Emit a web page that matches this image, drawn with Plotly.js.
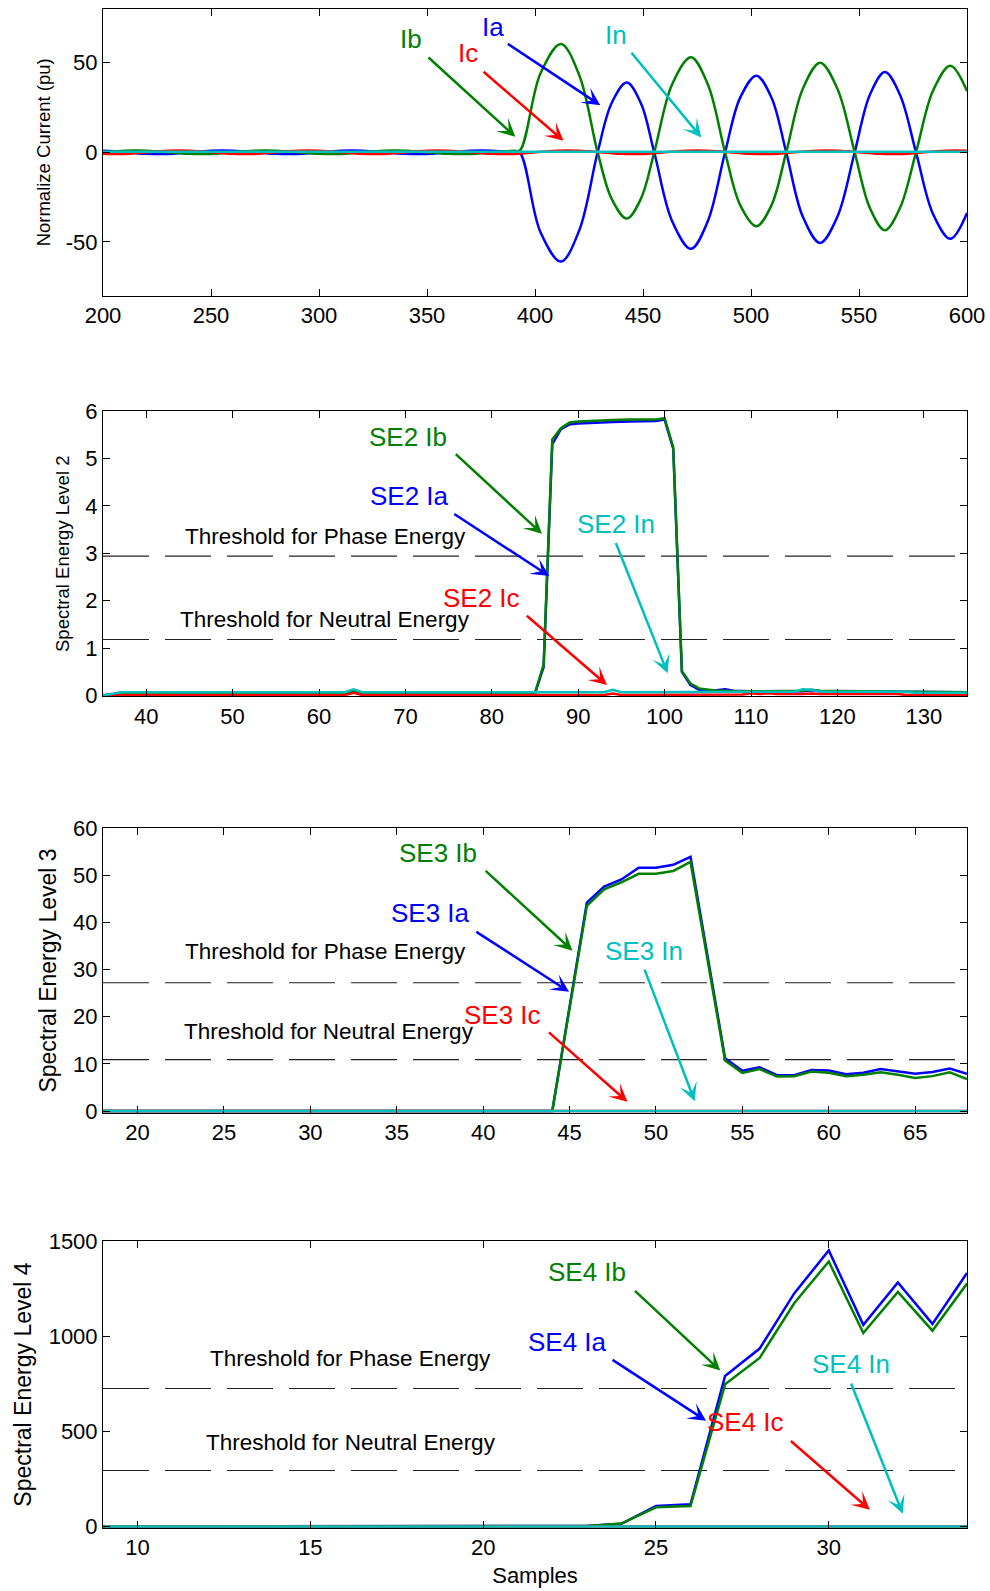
<!DOCTYPE html>
<html>
<head>
<meta charset="utf-8">
<script src="https://cdn.plot.ly/plotly-3.0.1.min.js"></script>
<style>html,body{margin:0;padding:0;background:#fff;}#chart{width:990px;height:1591px;}</style>
</head>
<body>
<div id="chart"></div>
<script>
// ---------- Panel 1: normalized currents ----------
const samples1ab = [200,205,210,215,220,225,230,235,240,245,250,255,260,265,270,275,280,285,290,295,300,305,310,315,320,325,330,335,340,345,350,355,360,365,370,375,380,385,390,393,402.5,412,420.5,429,435.5,442.5,449,455.2,463.5,472.2,480,488,495,502.5,509.5,516.3,524,532,540,548,555,562,569,576.4,584.3,592.3,600];
const Ia1 = [0.9,0.55,0.05,-0.45,-0.85,-1,-0.9,-0.55,0,0.45,0.85,1,
             0.9,0.55,0.05,-0.45,-0.85,-1,-0.9,-0.55,0,0.45,0.85,1,
             0.9,0.55,0.05,-0.45,-0.85,-1,-0.9,-0.55,0,0.45,0.85,1,
             0.9,0.55,0.05,
             -0.3,-44.5,-61,-43.5,0,27.5,38.9,27.5,0,-38.5,-53.9,-38.5,0,30.5,42.8,30.5,0,-36,-50.6,-36,0,32,44.8,32,0,-34.5,-48.3,-33.9];
const Ib1 = [0,0.45,0.85,1,0.9,0.55,0.05,-0.45,-0.85,-1,-0.9,-0.55,
             0,0.45,0.85,1,0.9,0.55,0.05,-0.45,-0.85,-1,-0.9,-0.55,
             0,0.45,0.85,1,0.9,0.55,0.05,-0.45,-0.85,-1,-0.9,-0.55,
             0,0.45,0.85,
             1,44,60.5,43,0,-26,-37,-26,0,38,53.1,38,0,-29.5,-41.3,-29.5,0,35.5,50,35.5,0,-31,-43.5,-31,0,34.5,48.3,34.2];
const samples1c = [200,205,210,215,220,225,230,235,240,245,250,255,260,265,270,275,280,285,290,295,300,305,310,315,320,325,330,335,340,345,350,355,360,365,370,375,380,385,390,395,400,405,410,415,420,425,430,435,440,445,450,455,460,465,470,475,480,485,490,495,500,505,510,515,520,525,530,535,540,545,550,555,560,565,570,575,580,585,590,595,600];
const Ic1 = [-0.85,-1,-0.9,-0.55,0,0.45,0.85,1,0.9,0.55,0.05,-0.45,
             -0.85,-1,-0.9,-0.55,0,0.45,0.85,1,0.9,0.55,0.05,-0.45,
             -0.85,-1,-0.9,-0.55,0,0.45,0.85,1,0.9,0.55,0.05,-0.45,
             -0.85,-1,-0.9,-0.55,0,0.45,0.85,1,0.9,0.55,0.05,-0.45,
             -0.85,-1,-0.9,-0.55,0,0.45,0.85,1,0.9,0.55,0.05,-0.45,
             -0.85,-1,-0.9,-0.55,0,0.45,0.85,1,0.9,0.55,0.05,-0.45,
             -0.85,-1,-0.9,-0.55,0,0.45,0.85,1,0.9];
const samples1n = [200,300,400,500,600];
const In1 = [0.3,0.3,0.3,0.3,0.3];
const yTicks1 = [-50, 0, 50];
const yTickText1 = ['-50', '0', '50'];

// ---------- Panel 2: spectral energy level 2 ----------
const samples2ab = [35,36,37,63,64,65,84,85,86,87,88,89,90,92,94,96,98,99,100,101,102,103,104,105,106,107,108,110,116,117,118,128,135];
const Ia2 = [0.0,0.02,0.04,0.04,0.09,0.04,0.04,0.05,0.6,5.3,5.62,5.72,5.74,5.76,5.77,5.78,5.79,5.79,5.82,5.2,0.5,0.22,0.12,0.1,0.11,0.13,0.1,0.09,0.09,0.11,0.09,0.07,0.07];
const Ib2 = [0.0,0.02,0.04,0.04,0.09,0.04,0.04,0.05,0.66,5.4,5.64,5.76,5.78,5.8,5.81,5.82,5.82,5.82,5.85,5.24,0.52,0.25,0.15,0.12,0.1,0.1,0.09,0.09,0.1,0.12,0.1,0.08,0.07];
const samples2c = [35,63,64,65,93,94,95,109,110,111,112,113,116,117,118,127,128,135];
const Ic2 = [0.01,0.01,0.06,0.01,0.01,0.04,0.01,0.02,0.05,0.03,0.05,0.03,0.03,0.04,0.03,0.03,0.01,0.01];
const samples2n = [35,36,37,63,64,65,93,94,95,115,116,117,118,128,129,135];
const In2 = [0.0,0.03,0.07,0.07,0.13,0.07,0.07,0.12,0.07,0.08,0.13,0.12,0.08,0.08,0.06,0.06];
const thresholds2 = [2.94, 1.18];

// ---------- Panel 3: spectral energy level 3 ----------
const samples3ab = [18,44,46,47,48,49,50,51,52,54,55,56,57,58,59,60,61,62,63,64,65,66,67,68];
const Ia3 = [0,0,44.2,47.6,49.1,51.6,51.6,52.2,53.9,11.2,8.55,9.26,7.6,7.6,8.7,8.6,7.8,8.1,8.9,8.4,7.9,8.3,9.0,7.9];
const Ib3 = [0,0,43.5,47.0,48.5,50.3,50.3,50.9,52.8,10.7,8.06,8.9,7.3,7.4,8.4,8.1,7.4,7.7,8.2,7.7,7.0,7.4,8.2,6.8];
const samples3cn = [18,68];
const Ic3 = [0,0];
const In3 = [0,0];
const thresholds3 = [27.2, 10.9];

// ---------- Panel 4: spectral energy level 4 ----------
const samples4ab = [9,23,24,25,26,27,28,29,30,31,32,33,34];
const Ia4 = [0,3,14,108,117,791,935,1225,1451,1060,1282,1065,1332];
const Ib4 = [0,3,15,101,108,747,886,1173,1393,1017,1233,1029,1277];
const samples4cn = [9,34];
const Ic4 = [0,0];
const In4 = [0,0];
const thresholds4 = [725, 294];

// ---------- Styles ----------
const FONT = 'Liberation Sans, Arial, Helvetica, sans-serif';
const COL = {a:'#0000FF', b:'#008000', c:'#FF0000', n:'#00BFBF'};
const LW = 2.5;

function tr(x, y, color, ax, ay, shape) {
  return {x:x, y:y, type:'scatter', mode:'lines', xaxis:ax, yaxis:ay,
          line:{color:color, width:LW, shape:shape||'linear'}, hoverinfo:'skip', showlegend:false};
}

const data = [
  tr(samples1ab, Ia1, COL.a, 'x', 'y', 'spline'),
  tr(samples1ab, Ib1, COL.b, 'x', 'y', 'spline'),
  tr(samples1c, Ic1, COL.c, 'x', 'y', 'spline'),
  tr(samples1n, In1, COL.n, 'x', 'y'),
  tr(samples2ab, Ia2, COL.a, 'x2', 'y2'),
  tr(samples2ab, Ib2, COL.b, 'x2', 'y2'),
  tr(samples2c, Ic2, COL.c, 'x2', 'y2'),
  tr(samples2n, In2, COL.n, 'x2', 'y2'),
  tr(samples3ab, Ia3, COL.a, 'x3', 'y3'),
  tr(samples3ab, Ib3, COL.b, 'x3', 'y3'),
  tr(samples3cn, Ic3, COL.c, 'x3', 'y3'),
  tr(samples3cn, In3, COL.n, 'x3', 'y3'),
  tr(samples4ab, Ia4, COL.a, 'x4', 'y4'),
  tr(samples4ab, Ib4, COL.b, 'x4', 'y4'),
  tr(samples4cn, Ic4, COL.c, 'x4', 'y4'),
  tr(samples4cn, In4, COL.n, 'x4', 'y4')
];

function axis(extra) {
  return Object.assign({
    showline:true, linecolor:'#000', linewidth:1, mirror:'ticks',
    ticks:'inside', ticklen:7, tickwidth:1, tickcolor:'#000',
    showgrid:false, zeroline:false, automargin:false,
    tickfont:{family:FONT, size:22, color:'#000'}
  }, extra);
}
function ytitle(text, size) {
  return {text:text, font:{family:FONT, size:size, color:'#000'}, standoff:10};
}

const layout = {
  width:990, height:1591, autosize:false,
  margin:{l:103, r:23, t:9, b:62.5},
  paper_bgcolor:'#fff', plot_bgcolor:'#fff',
  font:{family:FONT, color:'#000'},
  showlegend:false,
  xaxis: axis({domain:[0,1], anchor:'y', range:[200,600], tick0:200, dtick:50}),
  yaxis: axis({domain:[0.81132,1], anchor:'x', range:[-80,80], tickmode:'array', tickvals:yTicks1, ticktext:yTickText1,
               title:ytitle('Normalize Current (pu)', 18.5)}),
  xaxis2: axis({domain:[0,1], anchor:'y2', range:[35,135], tick0:40, dtick:10}),
  yaxis2: axis({domain:[0.54742,0.73531], anchor:'x2', range:[-0.02,6], tick0:0, dtick:1,
               title:ytitle('Spectral Energy Level 2', 18.5)}),
  xaxis3: axis({domain:[0,1], anchor:'y3', range:[18,68], tick0:20, dtick:5}),
  yaxis3: axis({domain:[0.27325,0.46081], anchor:'x3', range:[-0.4,60], tick0:0, dtick:10,
               title:ytitle('Spectral Energy Level 3', 23)}),
  xaxis4: axis({domain:[0,1], anchor:'y4', range:[9,34], tick0:10, dtick:5,
               title:{text:'Samples', font:{family:FONT, size:22, color:'#000'}, standoff:8}}),
  yaxis4: axis({domain:[0,0.18888], anchor:'x4', range:[-8,1500], tick0:0, dtick:500,
               title:ytitle('Spectral Energy Level 4', 23)}),
  shapes:[], annotations:[]
};

// threshold dashed lines
[[thresholds2,'2'],[thresholds3,'3'],[thresholds4,'4']].forEach(function(p){
  p[0].forEach(function(v){
    layout.shapes.push({type:'line', xref:'x'+p[1]+' domain', yref:'y'+p[1], x0:0, x1:1, y0:v, y1:v,
      layer:'below', line:{color:'#222', width:1.1, dash:'46px,16px'}});
  });
});

// text labels
const TS = 22.5;
const labels = [
  ['', 'Ib', 342.7, 63.5, COL.b, 26], ['', 'Ic', 369.1, 55.7, COL.c, 26],
  ['', 'Ia', 380.7, 70.2, COL.a, 26], ['', 'In', 437.6, 65.7, COL.n, 26],
  ['2', 'SE2 Ib', 70.27, 5.46, COL.b, 26], ['2', 'SE2 Ia', 70.42, 4.21, COL.a, 26],
  ['2', 'SE2 Ic', 78.81, 2.05, COL.c, 26], ['2', 'SE2 In', 94.33, 3.62, COL.n, 26],
  ['2', 'Threshold for Phase Energy', 60.7, 3.35, '#000', TS],
  ['2', 'Threshold for Neutral Energy', 60.7, 1.60, '#000', TS],
  ['3', 'SE3 Ib', 37.41, 54.8, COL.b, 26], ['3', 'SE3 Ia', 36.98, 41.96, COL.a, 26],
  ['3', 'SE3 Ic', 41.14, 20.3, COL.c, 26], ['3', 'SE3 In', 49.29, 33.96, COL.n, 26],
  ['3', 'Threshold for Phase Energy', 30.85, 33.75, '#000', TS],
  ['3', 'Threshold for Neutral Energy', 31.05, 16.9, '#000', TS],
  ['4', 'SE4 Ib', 23.0, 1336, COL.b, 26], ['4', 'SE4 Ia', 22.45, 971, COL.a, 26],
  ['4', 'SE4 Ic', 27.6, 549, COL.c, 26], ['4', 'SE4 In', 30.65, 852, COL.n, 26],
  ['4', 'Threshold for Phase Energy', 16.16, 883, '#000', TS],
  ['4', 'Threshold for Neutral Energy', 16.19, 440, '#000', TS]
];
labels.forEach(function(l){
  layout.annotations.push({xref:'x'+l[0], yref:'y'+l[0], x:l[2], y:l[3], text:l[1], showarrow:false,
    xanchor:'center', yanchor:'middle', font:{family:FONT, size:l[5], color:l[4]}});
});

// arrows: [panel, tailX, tailY, tipX, tipY, color]
const arrows = [
  ['', 350, 53.7, 390.9, 8.7, COL.b], ['', 375.5, 45.7, 413.2, 6.4, COL.c],
  ['', 386.7, 61.1, 430.2, 26.3, COL.a], ['', 444.1, 56.4, 477, 8.3, COL.n],
  ['2', 75.66, 5.12, 85.81, 3.41, COL.b], ['2', 75.48, 3.85, 86.65, 2.52, COL.a],
  ['2', 83.88, 1.71, 93.33, 0.22, COL.c], ['2', 94.29, 3.25, 100.35, 0.47, COL.n],
  ['3', 40.06, 51.2, 45.17, 34.0, COL.b], ['3', 39.52, 38.2, 44.97, 25.3, COL.a],
  ['3', 43.72, 16.97, 48.35, 1.96, COL.c], ['3', 49.31, 30.3, 52.24, 2.1, COL.n],
  ['4', 24.35, 1246, 26.86, 820, COL.b], ['4', 23.70, 881, 26.45, 556, COL.a],
  ['4', 28.86, 456, 31.19, 87.5, COL.c], ['4', 30.63, 759, 32.14, 66.7, COL.n]
];
arrows.forEach(function(a){
  const xr = 'x'+a[0], yr = 'y'+a[0];
  layout.annotations.push({xref:xr, yref:yr, axref:xr, ayref:yr, x:a[3], y:a[4], ax:a[1], ay:a[2],
    text:'', showarrow:true, arrowhead:3, arrowsize:1.2, arrowwidth:2.5, arrowcolor:a[5],
    standoff:0, startstandoff:0, font:{size:1}});
});

Plotly.newPlot('chart', data, layout, {displayModeBar:false, staticPlot:true});
</script>
</body>
</html>
